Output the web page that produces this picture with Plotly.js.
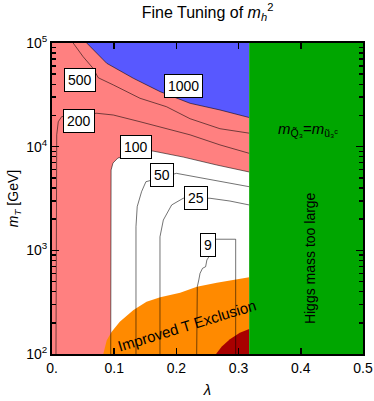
<!DOCTYPE html>
<html>
<head>
<meta charset="utf-8">
<script src="https://cdn.plot.ly/plotly-3.0.1.min.js"></script>
<style>html,body{margin:0;padding:0;background:#fff;}#plot{width:374px;height:401px;}</style>
</head>
<body>
<div id="plot"></div>
<script>
// ---- data (lambda, m_T in GeV) ----
const lamHiggs = 0.317;           // Higgs mass too large for lambda above this
const lamMin = 0, lamMax = 0.5;
const mTMin = 100, mTMax = 1e5;

// 1000 contour (blue boundary)
const lam1000 = [0.0558, 0.088, 0.131, 0.174, 0.222, 0.270, 0.317];
const mT1000  = [100000, 63700, 45600, 33900, 26200, 22600, 19100];

// 500 contour
const lam500 = [0.034, 0.050, 0.066, 0.0744, 0.0986, 0.1415, 0.184, 0.222, 0.270, 0.317];
const mT500  = [100000, 73800, 57000, 46200, 39400, 29300, 24300, 18600, 14900, 13500];

// 200 contour
const lam200 = [0.0064, 0.0076, 0.0101, 0.0156, 0.0719, 0.0986, 0.1415, 0.184, 0.222, 0.270, 0.317];
const mT200  = [100, 13000, 17400, 19500, 21000, 20200, 17400, 15000, 13000, 10400, 8630];

// 100 contour (pink / white boundary)
const lam100 = [0.0944, 0.0944, 0.095, 0.098, 0.106, 0.162, 0.211, 0.265, 0.317];
const mT100  = [100, 3060, 5960, 6950, 7780, 9080, 7940, 6650, 5700];

// 50 contour
const lam50 = [0.135, 0.135, 0.137, 0.144, 0.151, 0.200, 0.238, 0.275, 0.317];
const mT50  = [100, 1690, 2640, 3680, 4590, 5530, 5020, 4590, 4110];

// 25 contour
const lam25 = [0.1736, 0.1736, 0.179, 0.182, 0.1924, 0.211, 0.254, 0.286, 0.317];
const mT25  = [100, 1350, 1960, 2110, 2740, 3180, 3180, 2990, 2740];

// 9 contour
const lam9 = [0.2326, 0.2336, 0.236, 0.238, 0.242, 0.247, 0.249, 0.253, 0.255, 0.265, 0.2953, 0.2953];
const mT9  = [100, 446, 517, 600, 671, 695, 807, 881, 1280, 1280, 1280, 100];

// Improved T exclusion (orange) boundary
const lamExcl = [0.0825, 0.088, 0.096, 0.109, 0.131, 0.152, 0.174, 0.206, 0.233, 0.265, 0.317];
const mTExcl  = [100, 136, 164, 205, 266, 319, 352, 390, 446, 487, 550];

// dark red region boundary
const lamRed = [0.2637, 0.273, 0.286, 0.302, 0.317];
const mTRed  = [100, 118, 139, 160, 174];

// contour labels
const contourLabels = ['500', '1000', '200', '100', '50', '25', '9'];
const labelLam = [0.045, 0.212, 0.044, 0.135, 0.177, 0.232, 0.250];
const labelMT  = [43950, 38900, 17860, 9930, 5330, 3200, 1138];

const xTickVals = [0, 0.1, 0.2, 0.3, 0.4, 0.5];
const xTickText = ['0.', '0.1', '0.2', '0.3', '0.4', '0.5'];
const yTickVals = [100, 1000, 10000, 100000];
const yTickText = ['10<sup>2</sup>', '10<sup>3</sup>', '10<sup>4</sup>', '10<sup>5</sup>'];

// ---- colours ----
const cPink = '#ff8080', cBlue = '#5858ff', cGreen = '#00a600', cOrange = '#ff8a00', cRed = '#a80000';
const lineCol = 'rgba(0,0,0,0.55)';

function poly(xs, ys, color) {
  return {type: 'scatter', mode: 'lines', x: xs, y: ys, fill: 'toself', fillcolor: color,
          line: {width: 0, color: color}, hoverinfo: 'skip', showlegend: false};
}
function cline(xs, ys) {
  return {type: 'scatter', mode: 'lines', x: xs, y: ys, line: {width: 1, color: lineCol},
          hoverinfo: 'skip', showlegend: false};
}

const traces = [];
traces.push(poly([lamMin, lamHiggs, lamHiggs, lamMin], [mTMin, mTMin, mTMax, mTMax], cPink));
traces.push(poly(lam100.concat([lamHiggs]), mT100.concat([mTMin]), '#ffffff'));
traces.push(poly(lam1000.concat([lamHiggs]), mT1000.concat([mTMax]), cBlue));
traces.push(poly(lamExcl.concat([lamHiggs]), mTExcl.concat([mTMin]), cOrange));
traces.push(poly(lamRed.concat([lamHiggs]), mTRed.concat([mTMin]), cRed));
[[lam1000, mT1000], [lam500, mT500], [lam200, mT200], [lam100, mT100],
 [lam50, mT50], [lam25, mT25], [lam9, mT9]].forEach(p => traces.push(cline(p[0], p[1])));
traces.push(poly([lamHiggs, lamMax, lamMax, lamHiggs], [mTMin, mTMin, mTMax, mTMax], cGreen));

const font = 'Liberation Sans, Arial, Helvetica, sans-serif';
const annotations = contourLabels.map((t, i) => ({
  x: labelLam[i], y: Math.log10(labelMT[i]), xref: 'x', yref: 'y', text: t, showarrow: false,
  font: {family: font, size: 14, color: '#000'}, bgcolor: '#ffffff', bordercolor: '#000000',
  borderwidth: 1, borderpad: 3
}));
annotations.push({x: 0.217, y: Math.log10(188), xref: 'x', yref: 'y', text: 'Improved T Exclusion',
  showarrow: false, textangle: -17, font: {family: font, size: 15, color: '#000'}});
annotations.push({x: 0.415, y: Math.log10(844), xref: 'x', yref: 'y', text: 'Higgs mass too large',
  showarrow: false, textangle: -90, font: {family: font, size: 14, color: '#000'}});
annotations.push({x: 0.412, y: Math.log10(14500), xref: 'x', yref: 'y',
  text: '<i>m</i><sub>Q̃₃</sub>=<i>m</i><sub>ũ₃ᶜ</sub>',
  showarrow: false, font: {family: font, size: 15, color: '#000'}});

const layout = {
  width: 374, height: 401,
  margin: {l: 52, r: 11, t: 43, b: 47, pad: 0},
  paper_bgcolor: '#ffffff', plot_bgcolor: '#ffffff',
  font: {family: font, size: 14, color: '#000'},
  title: {text: 'Fine Tuning of <i>m</i><sub><i>h</i></sub><sup>2</sup>', x: 0.555, xanchor: 'center',
          y: 0.97, yanchor: 'middle', font: {family: font, size: 16, color: '#000'}},
  xaxis: {range: [lamMin, lamMax], tickvals: xTickVals, ticktext: xTickText, ticks: 'inside',
          ticklen: 6, tickwidth: 1.5, tickcolor: '#000', showline: true, linewidth: 2, linecolor: '#000',
          mirror: 'allticks', showgrid: false, zeroline: false, tickfont: {size: 14},
          title: {text: '<i>λ</i>', standoff: 10, font: {family: font, size: 15}}},
  yaxis: {type: 'log', range: [2, 5], tickvals: yTickVals, ticktext: yTickText, ticks: 'inside',
          ticklen: 7, tickwidth: 1.5, tickcolor: '#000', showline: true, linewidth: 2, linecolor: '#000',
          mirror: 'allticks', showgrid: false, zeroline: false, tickfont: {size: 14},
          minor: {ticks: 'inside', ticklen: 4, tickwidth: 1.5, tickcolor: '#000', dtick: 'D1', showgrid: false},
          title: {text: '<i>m</i><sub><i>T</i></sub> [GeV]', standoff: 4, font: {family: font, size: 14}}},
  annotations: annotations,
  showlegend: false
};

Plotly.newPlot('plot', traces, layout, {displayModeBar: false, staticPlot: true});
</script>
</body>
</html>
